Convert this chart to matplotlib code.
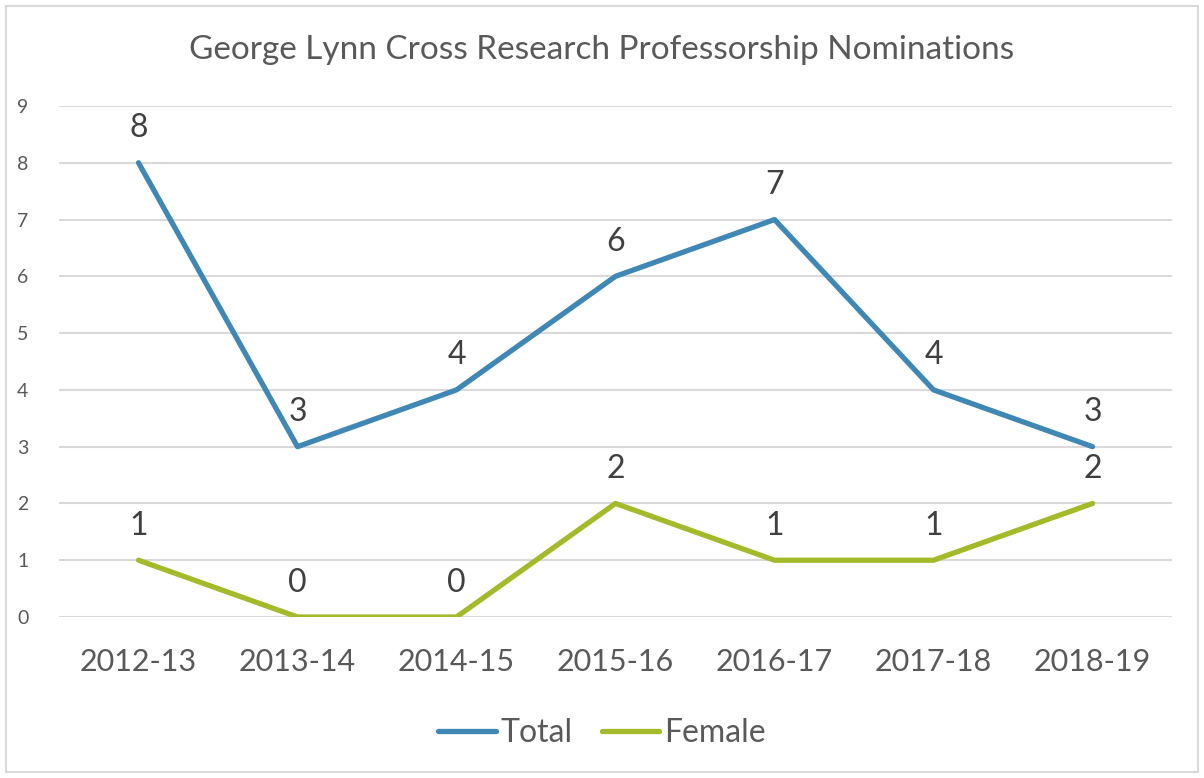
import matplotlib.pyplot as plt
from matplotlib.patches import Rectangle

# data
years = ['2012-13', '2013-14', '2014-15', '2015-16', '2016-17', '2017-18', '2018-19']
total = [8, 3, 4, 6, 7, 4, 3]
female = [1, 0, 0, 2, 1, 1, 2]

plt.rcParams['font.family'] = ['Lato', 'DejaVu Sans']

fig = plt.figure(figsize=(12.04, 7.78), dpi=100)
ax = fig.add_axes([59/1204, 1 - 617/778, (1172 - 59)/1204, (617 - 106)/778])

x = range(len(years))
l1, = ax.plot(x, total, color='#3F87B5', lw=3.8, solid_capstyle='round', solid_joinstyle='round', label='Total')
l2, = ax.plot(x, female, color='#A5BA2A', lw=3.8, solid_capstyle='round', solid_joinstyle='round', label='Female')

# data labels above points
for i in x:
    ax.annotate(str(total[i]), (i, total[i]), xytext=(0, 14), textcoords='offset points',
                ha='center', va='bottom', fontsize=23, color='#404040')
    ax.annotate(str(female[i]), (i, female[i]), xytext=(0, 14), textcoords='offset points',
                ha='center', va='bottom', fontsize=23, color='#404040')

ax.set_xlim(-0.5, 6.5)
ax.set_ylim(0, 9)
ax.set_yticks(range(0, 10))
ax.set_xticks(list(x))
ax.set_xticklabels(years)
ax.grid(axis='y', color='#D9D9D9', lw=1.5)
ax.set_axisbelow(True)
for s in ax.spines.values():
    s.set_visible(False)
ax.tick_params(axis='y', length=0, pad=22, labelsize=14, labelcolor='#595959')
ax.tick_params(axis='x', length=0, pad=22, labelsize=22, labelcolor='#595959')

fig.text(0.5, 1 - 50/778, 'George Lynn Cross Research Professorship Nominations',
         ha='center', va='center', fontsize=24, color='#595959')

fig.legend(handles=[l1, l2], loc='center', bbox_to_anchor=(0.5, 1 - 733/778), ncol=2,
           frameon=False, fontsize=23, labelcolor='#595959', handlelength=1.8,
           handletextpad=0.15, columnspacing=0.9)

# chart border
fig.patches.append(Rectangle((6/1204, 6/778), 1192/1204, 766/778, transform=fig.transFigure,
                             fill=False, edgecolor='#D9D9D9', lw=1.5))

plt.savefig('out.png', dpi=100)
